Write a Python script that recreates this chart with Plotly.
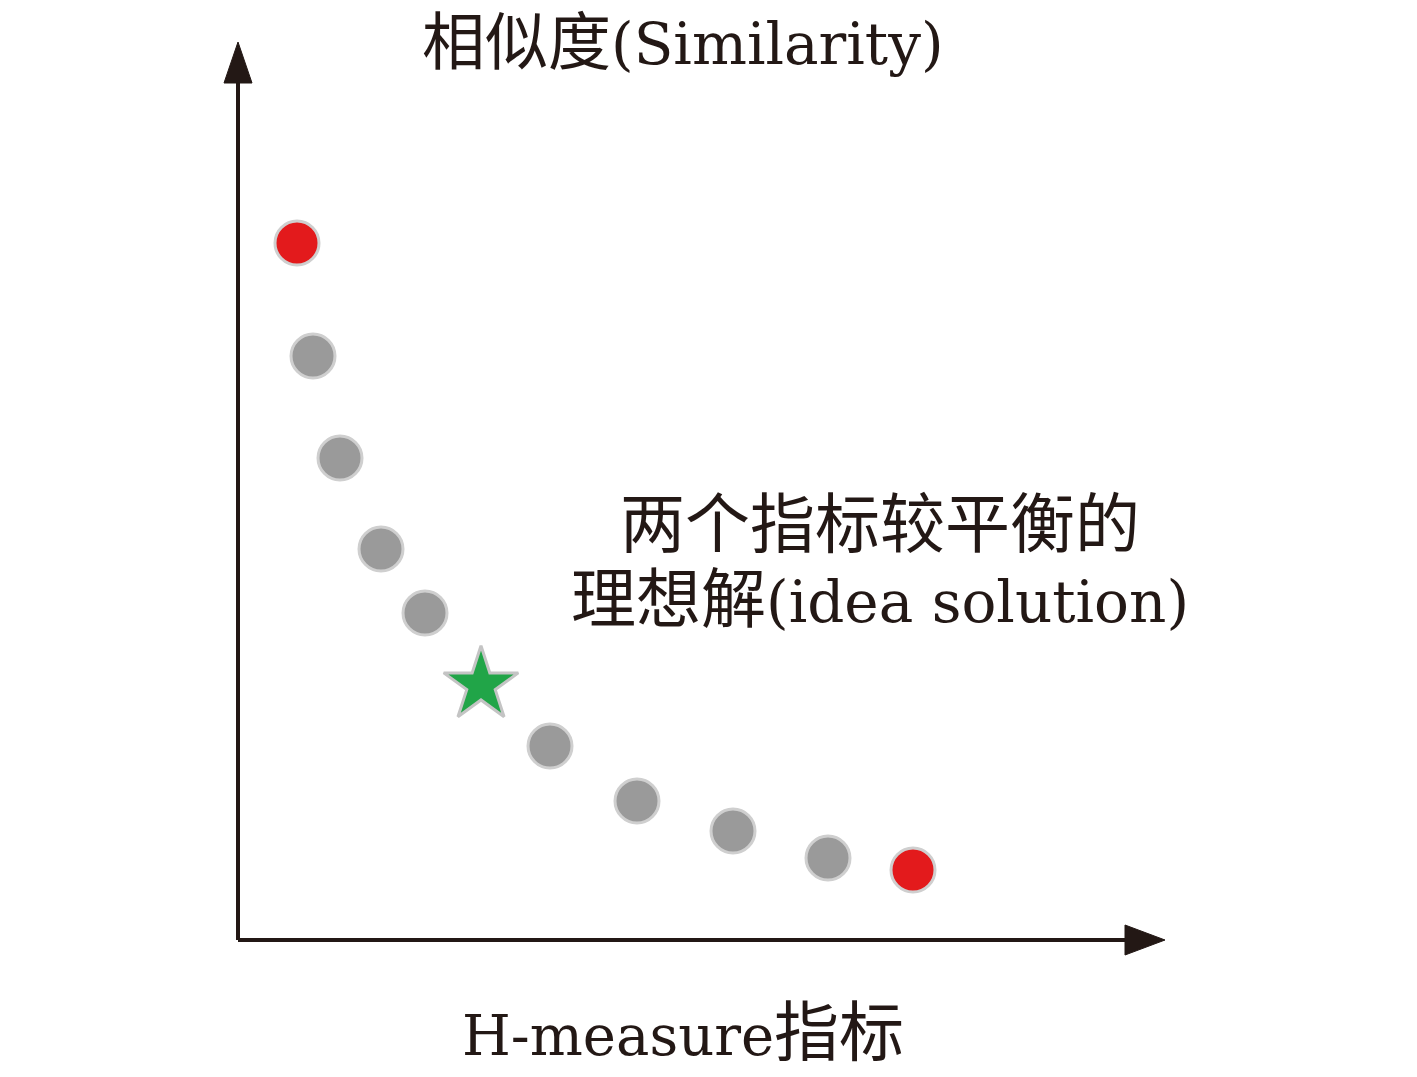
import plotly.graph_objects as go

# Pareto-like front: H-measure (x) vs similarity (y)
h_measure = [0.59, 0.75, 1.02, 1.43, 1.87, 3.12, 3.99, 4.95, 5.90, 6.75]
similarity = [6.97, 5.84, 4.82, 3.91, 3.27, 1.94, 1.39, 1.09, 0.82, 0.70]
point_kind = ['extreme', 'mid', 'mid', 'mid', 'mid', 'mid', 'mid', 'mid', 'mid', 'extreme']

ideal_x = [2.43]
ideal_y = [2.55]


def cjk(s, px=65):
    # CJK glyphs are drawn a bit larger than the latin serif text
    return '<span style="font-size:%dpx">' % px + s + '</span>'


x_label = 'H-measure' + cjk('指标')
y_label = cjk('相似度', 63) + '(Similarity)'
ideal_text = cjk('两个指标较平衡的') + '<br>' + cjk('理想解') + '(idea solution)'

FONT = 'DejaVu Serif, Noto Sans CJK SC'
INK = '#231815'

colors = {'extreme': '#e31a1c', 'mid': '#9a9a9a'}

fig = go.Figure()

fig.add_trace(go.Scatter(
    x=h_measure, y=similarity, mode='markers',
    marker=dict(size=44, color=[colors[k] for k in point_kind],
                line=dict(color='#cfcfcf', width=3)),
    showlegend=False, hoverinfo='skip'
))

fig.add_trace(go.Scatter(
    x=ideal_x, y=ideal_y, mode='markers',
    marker=dict(size=56, symbol='star', color='#21a548',
                line=dict(color='#c4c4c4', width=3)),
    showlegend=False, hoverinfo='skip'
))

# axes drawn by hand: lines + triangular arrowheads
fig.add_shape(type='line', x0=0, y0=0, x1=8.9, y1=0, line=dict(color=INK, width=4))
fig.add_shape(type='line', x0=0, y0=0, x1=0, y1=8.6, line=dict(color=INK, width=4))
fig.add_shape(type='path', path='M 8.87,0.15 L 9.27,0 L 8.87,-0.15 Z',
              fillcolor=INK, line=dict(color=INK, width=1))
fig.add_shape(type='path', path='M -0.14,8.57 L 0,8.98 L 0.14,8.57 Z',
              fillcolor=INK, line=dict(color=INK, width=1))

fig.add_annotation(x=4.45, y=8.98, text=y_label, showarrow=False,
                   font=dict(family=FONT, size=58, color=INK), xanchor='center', yanchor='middle')
fig.add_annotation(x=4.45, y=-0.92, text=x_label, showarrow=False,
                   font=dict(family=FONT, size=56, color=INK), xanchor='center', yanchor='middle')
fig.add_annotation(x=6.42, y=3.78, text=ideal_text, showarrow=False, align='center',
                   font=dict(family=FONT, size=58, color=INK), xanchor='center', yanchor='middle')

fig.update_layout(
    width=1417, height=1077,
    margin=dict(l=0, r=0, t=0, b=0),
    plot_bgcolor='white', paper_bgcolor='white',
    xaxis=dict(range=[-2.30, 11.87], visible=False, fixedrange=True),
    yaxis=dict(range=[-1.45, 9.32], visible=False, fixedrange=True),
)

fig.write_html('out.html')
